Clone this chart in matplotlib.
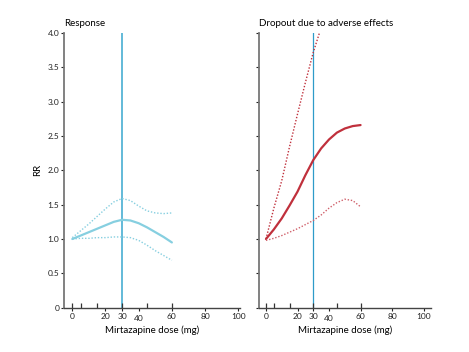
import matplotlib
matplotlib.use("Agg")
import matplotlib.pyplot as plt
import matplotlib.transforms as mtransforms

plt.rcParams['font.family'] = ['Lato', 'DejaVu Sans']

# Data
dose = [0, 5, 10, 15, 20, 25, 30, 35, 40, 45, 50, 55, 60]
resp_rr = [1.0, 1.05, 1.10, 1.15, 1.20, 1.25, 1.28, 1.27, 1.23, 1.17, 1.10, 1.03, 0.95]
resp_hi = [1.02, 1.12, 1.22, 1.33, 1.44, 1.54, 1.59, 1.56, 1.48, 1.41, 1.38, 1.37, 1.38]
resp_lo = [1.0, 1.01, 1.01, 1.02, 1.02, 1.03, 1.03, 1.02, 0.98, 0.91, 0.83, 0.76, 0.69]

drop_rr = [1.0, 1.14, 1.30, 1.49, 1.69, 1.93, 2.15, 2.32, 2.45, 2.55, 2.61, 2.645, 2.66]
drop_hi_dose = [0, 5, 10, 15, 20, 25, 30, 35]
drop_hi = [1.0, 1.45, 1.85, 2.35, 2.82, 3.28, 3.72, 4.08]
drop_lo = [0.98, 1.01, 1.05, 1.10, 1.15, 1.21, 1.27, 1.35, 1.45, 1.53, 1.58, 1.56, 1.47]

rug_doses = [0, 5, 15, 45, 60]
ref_dose = 30
xticks = [0, 20, 30, 40, 60, 80, 100]
yticks = [0, 0.5, 1.0, 1.5, 2.0, 2.5, 3.0, 3.5, 4.0]
ytick_labels = ['0', '0.5', '1.0', '1.5', '2.0', '2.5', '3.0', '3.5', '4.0']

fig = plt.figure(figsize=(4.69, 3.52), dpi=100)
ax1 = fig.add_axes([0.1365, 0.126, 0.375, 0.78])
ax2 = fig.add_axes([0.552, 0.126, 0.368, 0.78])

blue_light = '#86cfe0'
blue_line = '#62bad8'
blue_dark = '#2e9bc9'
red = '#c0303c'
dots = (0, (1, 1.3))

ax1.plot(dose, resp_rr, color=blue_light, lw=1.6, solid_capstyle='round')
ax1.plot(dose, resp_hi, color=blue_light, lw=1.0, ls=dots)
ax1.plot(dose, resp_lo, color=blue_light, lw=1.0, ls=dots)
ax1.axvline(ref_dose, color=blue_line, lw=1.4, zorder=1)

ax2.plot(dose, drop_rr, color=red, lw=1.6, solid_capstyle='round')
ax2.plot(drop_hi_dose, drop_hi, color=red, lw=1.0, ls=dots)
ax2.plot(dose, drop_lo, color='#d0606a', lw=1.0, ls=dots)
ax2.axvline(ref_dose, color=blue_dark, lw=0.9, zorder=1)

for ax, xl in ((ax1, (-5, 101)), (ax2, (-4.5, 105))):
    ax.set_xlim(*xl)
    ax.set_ylim(0, 4.0)
    ax.vlines(rug_doses, 0, 0.07, color='#333333', lw=0.9, clip_on=False)
    ax.vlines([ref_dose], 0, 0.07, color='#333333', lw=0.9, clip_on=False)
    for s in ('top', 'right'):
        ax.spines[s].set_visible(False)
    ax.spines['left'].set_color('#777777')
    ax.spines['left'].set_linewidth(1.3)
    ax.spines['bottom'].set_color('#444444')
    ax.spines['bottom'].set_linewidth(1.0)
    ax.set_xticks(xticks)
    ax.set_xticklabels([str(t) for t in xticks])
    ax.set_yticks(yticks)
    ax.tick_params(axis='x', length=2.5, width=0.8, pad=1.5, labelsize=6, colors='#222222')
    ax.tick_params(axis='y', length=2.5, width=0.8, pad=1, labelsize=6, colors='#222222')
    ax.set_xlabel('Mirtazapine dose (mg)', fontsize=7, labelpad=3)
    # the "40" label sits slightly lower in the original
    lab = ax.get_xticklabels()[3]
    lab.set_transform(lab.get_transform() + mtransforms.ScaledTranslation(0, -1.1 / 72, fig.dpi_scale_trans))

ax1.set_yticklabels(ytick_labels)
ax2.set_yticklabels([])
ax1.set_ylabel('RR', fontsize=7, labelpad=4)

ax1.set_title('Response', fontsize=7, loc='left', pad=5)
ax2.set_title('Dropout due to adverse effects', fontsize=7, loc='left', pad=5)

fig.savefig('out.png', dpi=100)
